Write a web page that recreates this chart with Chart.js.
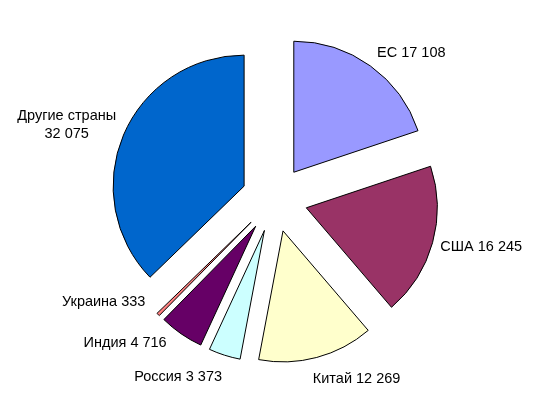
<!DOCTYPE html>
<html>
<head>
<meta charset="utf-8">
<script src="https://cdn.jsdelivr.net/npm/chart.js@4"></script>
<style>
  html, body { margin: 0; padding: 0; background: #fff; }
  #wrap { width: 542px; height: 396px; }
</style>
</head>
<body>
<div id="wrap"><canvas id="chart"></canvas></div>
<script>
const countries = ["ЕС", "США", "Китай", "Россия", "Индия", "Украина", "Другие страны"];
const volumes = [17108, 16245, 12269, 3373, 4716, 333, 32075];
const colours = ["#9999ff", "#993366", "#ffffcc", "#ccffff", "#660066", "#ff8080", "#0066cc"];

const fmt = v => String(v).replace(/\B(?=(\d{3})+(?!\d))/g, " ");

// pull every slice out along its middle angle, keeping the radius the same
const explode = {
  id: "explode",
  afterDatasetUpdate(chart, args, opts) {
    args.meta.data.forEach(arc => {
      const mid = (arc.startAngle + arc.endAngle) / 2;
      arc.x += Math.cos(mid) * opts.distance;
      arc.y += Math.sin(mid) * opts.distance;
    });
  }
};

const sliceLabels = {
  id: "sliceLabels",
  afterDatasetsDraw(chart, args, opts) {
    const ctx = chart.ctx;
    const arcs = chart.getDatasetMeta(0).data;
    ctx.save();
    ctx.font = opts.font;
    ctx.fillStyle = opts.color;
    ctx.textBaseline = "middle";
    ctx.textAlign = "center";
    arcs.forEach((arc, i) => {
      const name = chart.data.labels[i];
      const value = fmt(chart.data.datasets[0].data[i]);
      const lines = name.includes(" ") ? [name, value] : [name + " " + value];
      const mid = (arc.startAngle + arc.endAngle) / 2;
      const dx = Math.cos(mid), dy = Math.sin(mid);
      const r = arc.outerRadius + opts.gap;
      const nudge = opts.nudge[i] || [0, 0];
      const ax = arc.x + dx * r + nudge[0];
      const ay = arc.y + dy * r + nudge[1];
      const w = Math.max(...lines.map(l => ctx.measureText(l).width));
      const h = lines.length * opts.lineHeight;
      const left = dx >= 0 ? ax : ax - w;
      const top = ay + dy * h / 2 - h / 2;
      lines.forEach((l, k) => ctx.fillText(l, left + w / 2, top + opts.lineHeight * (k + 0.5)));
    });
    ctx.restore();
  }
};

new Chart(document.getElementById("chart"), {
  type: "pie",
  data: {
    labels: countries,
    datasets: [
      {
        data: volumes,
        backgroundColor: colours,
        borderColor: "#000",
        borderWidth: 1
      }
    ]
  },
  options: {
    responsive: true,
    maintainAspectRatio: false,
    animation: false,
    events: [],
    radius: 131,
    layout: { padding: { left: 7, top: 2 } },
    plugins: {
      legend: { display: false },
      tooltip: { enabled: false },
      explode: { distance: 33 },
      sliceLabels: {
        font: "14.5px 'Liberation Sans', Arial, sans-serif",
        color: "#000",
        gap: 8,
        lineHeight: 18,
        nudge: { 0: [2, 1], 2: [-6, 5], 3: [0, 6], 4: [-10, -5], 5: [-7, -24] }
      }
    }
  },
  plugins: [explode, sliceLabels]
});
</script>
</body>
</html>
